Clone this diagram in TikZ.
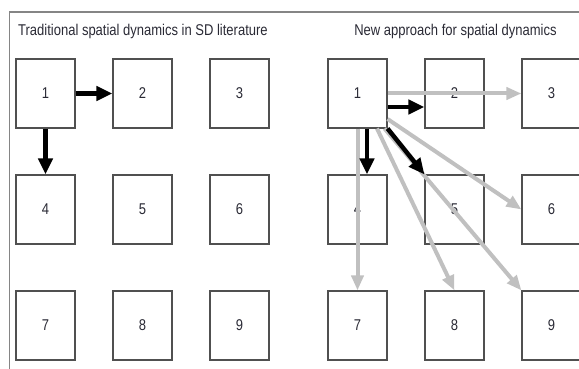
\documentclass[tikz,border=0pt]{standalone}
\usepackage{graphicx}
\usepackage{fontspec}
\setmainfont{Liberation Sans}
\usetikzlibrary{arrows.meta}

\definecolor{boxline}{HTML}{505050}
\definecolor{frameline}{HTML}{858585}
\definecolor{lightarrow}{HTML}{C0C0C0}
\definecolor{labeltext}{HTML}{2A2A35}

% the scanned text is a little taller than it is wide
\newcommand{\tallish}[1]{\scalebox{1}[1.2]{#1}}

\tikzset{
  cell/.style={draw=boxline, line width=1.1pt, fill=white, minimum width=59pt,
    minimum height=69pt, inner sep=0pt, text=labeltext,
    font=\fontsize{13}{15}\selectfont},
  heading/.style={text=labeltext, inner sep=0pt, font=\fontsize{13}{15}\selectfont},
  oldlink/.style={line width=4.5pt, -{Triangle[length=16pt,width=14pt]}},
  newlink/.style={lightarrow, line width=4pt, -{Triangle[length=15pt,width=12pt]}}
}

\begin{document}
\begin{tikzpicture}[x=1pt,y=-1pt]
  \useasboundingbox (0,0) rectangle (579,369);

  % frame round the figure
  \draw[frameline, line width=1.3pt] (9.5,369) -- (9.5,12) -- (579,12);

  \node[heading, anchor=base west] (oldtitle) at (18,36) {\tallish{Traditional spatial dynamics in SD literature}};
  \node[heading, anchor=base] (newtitle) at (455.5,36) {\tallish{New approach for spatial dynamics}};

  % the two 3x3 grids of cells
  \foreach \row in {0,1,2}
    \foreach \col in {1,2,3} {
      \pgfmathtruncatemacro{\n}{3*\row+\col}
      \node[cell] (l\n) at (45.5+97*\col-97, 93.5+116*\row) {\tallish{\n}};
      \node[cell] (r\n) at (357.5+97*\col-97, 93.5+116*\row) {\tallish{\n}};
    }

  % traditional: only to the neighbours
  \draw[oldlink] (l1.east) -- (l2.west);
  \draw[oldlink] (l1.south) -- (l4.north);

  % new approach: also to cells further away
  \draw[newlink] (r1.east) -- (r3.west);
  \draw[newlink] ([yshift=-25.5pt]r1.east) -- (r6.west);
  \draw[newlink] (r1.south) -- (r7.north);
  \draw[newlink] ([xshift=19.5pt]r1.south) -- (r8.north);
  \draw[newlink] ([xshift=27pt]r1.south) -- (r9.north west);
  \draw[oldlink] ([yshift=-13.5pt]r1.east) -- ([yshift=-13.5pt]r2.west);
  \draw[oldlink] ([xshift=9.5pt]r1.south) -- ([xshift=9.5pt]r4.north);
  \draw[oldlink] (r1.south east) -- (r5.north west);
\end{tikzpicture}
\end{document}
